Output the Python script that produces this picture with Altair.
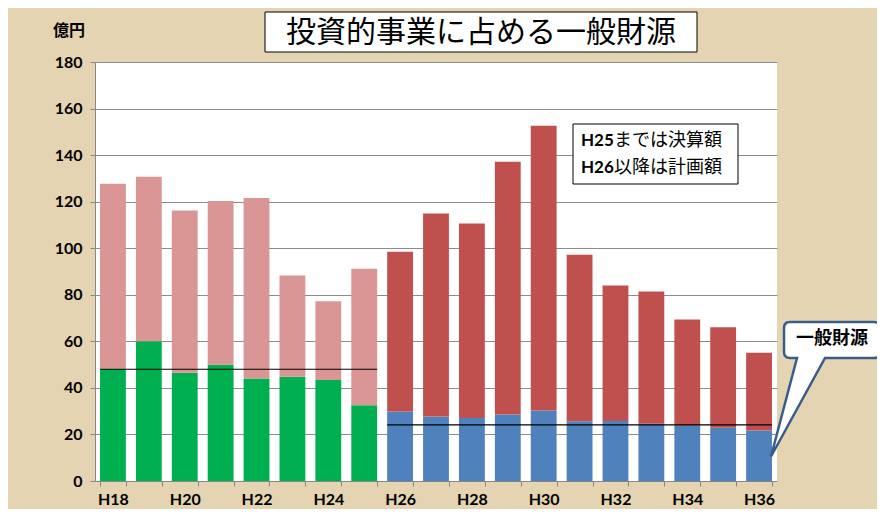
import altair as alt
import pandas as pd

categories = ["H18", "H19", "H20", "H21", "H22", "H23", "H24", "H25", "H26", "H27",
              "H28", "H29", "H30", "H31", "H32", "H33", "H34", "H35", "H36"]
total = [127.7, 130.7, 116.2, 120.3, 121.6, 88.3, 77.2, 91.2, 98.5, 114.9,
         110.6, 137.2, 152.6, 97.2, 84.0, 81.4, 69.4, 66.0, 55.1]
general = [48.2, 60.0, 46.5, 49.9, 44.0, 44.8, 43.4, 32.5, 29.9, 27.7,
           27.1, 28.6, 30.3, 25.7, 25.8, 24.6, 23.7, 22.9, 21.7]
period = ["決算"] * 8 + ["計画"] * 11

line_start = ["H18", "H26"]
line_end = ["H25", "H36"]
line_value = [48.0, 24.1]

title_text = "投資的事業に占める一般財源"
unit_text = "億円"
note_bold = ["H25", "H26"]
note_rest = ["までは決算額", "以降は計画額"]
callout_text = "一般財源"

bottom_colors = {"決算": "#00B050", "計画": "#4F81BD"}
top_colors = {"決算": "#D99694", "計画": "#C0504D"}

df = pd.DataFrame({
    "year": categories,
    "total": total,
    "general": general,
    "period": period,
})
df["c_bottom"] = df["period"].map(bottom_colors)
df["c_top"] = df["period"].map(top_colors)

lines = pd.DataFrame({"start": line_start, "end": line_end, "value": line_value})

xscale = alt.Scale(domain=categories, paddingInner=0.28, paddingOuter=0.14)
xaxis = alt.Axis(
    title=None, labelAngle=0, tickBand="extent",
    labelExpr="parseInt(substring(datum.value, 1)) % 2 == 0 ? datum.value : ''",
    labelFont="Lato", labelFontWeight="bold", labelFontSize=16, labelColor="#000000",
    labelPadding=5, tickSize=5, tickColor="#868686", domainColor="#868686", grid=False,
)
yscale = alt.Scale(domain=[0, 180], nice=False)
yaxis = alt.Axis(
    title=None, values=list(range(0, 181, 20)),
    labelFont="Lato", labelFontWeight="bold", labelFontSize=16, labelColor="#000000",
    labelPadding=8, tickSize=5, tickColor="#868686", domainColor="#868686",
    grid=True, gridColor="#8c8c8c", gridWidth=1,
)

base = alt.Chart(df)

bars_bottom = base.mark_bar().encode(
    x=alt.X("year:N", scale=xscale, axis=xaxis, sort=categories),
    y=alt.Y("general:Q", scale=yscale, axis=yaxis),
    color=alt.Color("c_bottom:N", scale=None),
)
bars_top = base.mark_bar().encode(
    x=alt.X("year:N", scale=xscale, axis=xaxis, sort=categories),
    y=alt.Y("general:Q", scale=yscale, axis=yaxis),
    y2="total:Q",
    color=alt.Color("c_top:N", scale=None),
)

rules = alt.Chart(lines).mark_rule(color="#000000", strokeWidth=1.2).encode(
    x=alt.X("start:N", scale=xscale, axis=xaxis, sort=categories, bandPosition=0),
    x2=alt.X2("end:N", bandPosition=1),
    y=alt.Y("value:Q", scale=yscale, axis=yaxis),
)

# Title box
title_df = pd.DataFrame({"t": [title_text]})
title_box = alt.Chart(title_df).mark_rect(fill="white", stroke="#000000", strokeWidth=1).encode(
    x=alt.value(170), x2=alt.value(602), y=alt.value(-50), y2=alt.value(-10)
)
title_label = alt.Chart(title_df).mark_text(
    font="Noto Sans CJK JP", fontSize=30, color="#000000", align="center", baseline="middle"
).encode(x=alt.value(386), y=alt.value(-29), text="t:N")

unit_df = pd.DataFrame({"t": [unit_text]})
unit_label = alt.Chart(unit_df).mark_text(
    font="Noto Sans CJK JP", fontSize=16, fontWeight="bold", color="#000000",
    align="center", baseline="middle"
).encode(x=alt.value(-26), y=alt.value(-31), text="t:N")

# Note box
note_df = pd.DataFrame({"b": note_bold, "r": note_rest, "yy": [79, 106]})
note_box = alt.Chart(pd.DataFrame({"k": [0]})).mark_rect(
    fill="white", stroke="#000000", strokeWidth=1
).encode(x=alt.value(478), x2=alt.value(643), y=alt.value(62), y2=alt.value(122))
note_b = alt.Chart(note_df).mark_text(
    font="Lato", fontSize=17, fontWeight="bold", color="#000000", align="left", baseline="middle"
).encode(x=alt.value(486), y=alt.Y("yy:Q", scale=None), text="b:N")
note_r = alt.Chart(note_df).mark_text(
    font="Noto Sans CJK JP", fontSize=18, color="#000000", align="left", baseline="middle"
).encode(x=alt.value(519), y=alt.Y("yy:Q", scale=None), text="r:N")

# Callout with pointer
callout_path = (
    "M -0.583 -1.133 L 0.817 -1.133 Q 0.917 -1.133 0.917 -1.033 L 0.917 -0.633 "
    "Q 0.917 -0.533 0.817 -0.533 L 0.0 -0.533 L -0.9 1.108 L -0.467 -0.533 "
    "L -0.583 -0.533 Q -0.683 -0.533 -0.683 -0.633 L -0.683 -1.033 "
    "Q -0.683 -1.133 -0.583 -1.133 Z"
)
callout_df = pd.DataFrame({"t": [callout_text]})
callout_shape = alt.Chart(callout_df).mark_point(
    shape=callout_path, filled=True, fill="white", stroke="#385D8A", strokeWidth=2.5,
    size=14400, opacity=1, fillOpacity=1, strokeOpacity=1
).encode(x=alt.value(730), y=alt.value(328))
callout_label = alt.Chart(callout_df).mark_text(
    font="Noto Sans CJK JP", fontSize=18, fontWeight="bold", color="#000000",
    align="center", baseline="middle"
).encode(x=alt.value(737), y=alt.value(277), text="t:N")

chart = alt.layer(
    bars_bottom, bars_top, rules,
    title_box, title_label, unit_label,
    note_box, note_b, note_r,
    callout_shape, callout_label,
).properties(
    width=682, height=419,
    autosize=alt.AutoSizeParams(type="none"),
    padding={"left": 87, "top": 54, "right": 100, "bottom": 28},
    background="#E4D4B1",
).configure_view(fill="white", stroke=None)

chart.save("out.html", embed_options={"renderer": "svg", "actions": False})
